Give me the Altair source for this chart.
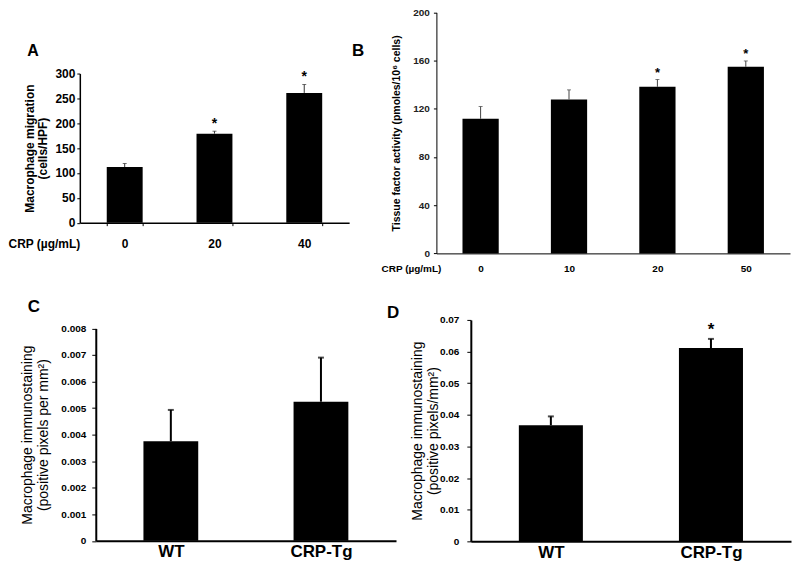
import altair as alt
import pandas as pd

FONT = "Liberation Sans"

# ---- data ----
a_cats = ["0", "20", "40"]
a_vals = [112, 179, 261]
a_errs = [7, 5, 17]
a_star = ["", "*", "*"]

b_cats = ["0", "10", "20", "50"]
b_vals = [111.7, 127.7, 138.2, 154.8]
b_errs = [10.2, 8.0, 6.1, 4.9]
b_star = ["", "", "*", "*"]

c_cats = ["WT", "CRP-Tg"]
c_vals = [0.00375, 0.00524]
c_errs = [0.00118, 0.00166]
c_star = ["", ""]

d_cats = ["WT", "CRP-Tg"]
d_vals = [0.0367, 0.0611]
d_errs = [0.0028, 0.0029]
d_star = ["", "*"]

W, H = 786, 555


def panel(cats, vals, errs, stars, xr, yr, ydom, yticks, pin, pout,
          ytitle, ytx, ylh, ytfs, ytfw, ylfs, ytick, ypad, ycol,
          xlfs, xpad, xticks, xtitle, xtx, xty, xtfs, dom_w,
          err_w, err_col, cap_size, star_fs, star_dy, ylabel_expr=None):
    df = pd.DataFrame({
        "cat": cats,
        "val": vals,
        "top": [v + e for v, e in zip(vals, errs)],
        "star": stars,
    })
    ymid = (yr[0] + yr[1]) / 2
    xaxis = alt.Axis(
        orient="bottom", offset=yr[0] - H, domainColor="black", domainWidth=dom_w,
        ticks=xticks, tickBand="extent", tickSize=3, tickColor="black", tickWidth=1,
        labelFont=FONT, labelFontSize=xlfs, labelFontWeight="bold", labelColor="black",
        labelAngle=0, labelBaseline="middle", labelPadding=xpad,
        title=xtitle if xtitle else None,
        titleX=xtx, titleY=xty, titleAlign="left", titleBaseline="middle",
        titleFont=FONT, titleFontSize=xtfs, titleFontWeight="bold", titleColor="black",
        grid=False,
    )
    yargs = dict(
        orient="left", offset=-xr[0], values=yticks, domainColor="black", domainWidth=dom_w,
        tickSize=ytick, tickColor="black", tickWidth=1,
        labelFont=FONT, labelFontSize=ylfs, labelFontWeight="bold", labelColor=ycol,
        labelPadding=ypad,
        title=ytitle, titleX=ytx, titleY=ymid, titleAngle=-90, titleAlign="center",
        titleBaseline="middle", titleLineHeight=ylh,
        titleFont=FONT, titleFontSize=ytfs, titleFontWeight=ytfw, titleColor="black",
        grid=False,
    )
    if ylabel_expr:
        yargs["labelExpr"] = ylabel_expr
    yaxis = alt.Axis(**yargs)
    xs = alt.Scale(range=xr, paddingInner=pin, paddingOuter=pout)
    ys = alt.Scale(domain=ydom, range=yr, nice=False, zero=True)
    x = alt.X("cat:N", sort=cats, scale=xs, axis=xaxis)

    def y(field):
        return alt.Y(f"{field}:Q", scale=ys, axis=yaxis)

    base = alt.Chart(df)
    bars = base.mark_bar(color="black").encode(x=x, y=y("val"))
    err = base.mark_rule(color=err_col, strokeWidth=err_w).encode(x=x, y=y("val"), y2="top:Q")
    cap = base.mark_tick(color=err_col, thickness=err_w, size=cap_size).encode(x=x, y=y("top"))
    star = base.mark_text(font=FONT, fontSize=star_fs, fontWeight="bold", color="black",
                          baseline="alphabetic", dy=star_dy).encode(x=x, y=y("top"), text="star:N")
    return alt.layer(bars, err, cap, star)


pA = panel(a_cats, a_vals, a_errs, a_star, [72, 342], [214.5, 65], [0, 300],
           [0, 50, 100, 150, 200, 250, 300], 0.6, 0.3,
           ["Macrophage migration", "(cells/HPF)"], -50, 13, 12, "bold", 12, 3, 2, "black",
           12, 17.5, True, "CRP (µg/mL)", 0, 20.5, 12, 1.5,
           1, "#333333", 4, 14, -3)

pB = panel(b_cats, b_vals, b_errs, b_star, [429.5, 784], [245.3, 3.7], [0, 200],
           [0, 40, 80, 120, 160, 200], 0.59, 0.295,
           "Tissue factor activity (pmoles/10⁶ cells)", -40.5, 12, 10.5, "bold", 10, 3, 4, "#222222",
           10, 15, False, "CRP (µg/mL)", 374, 15, 10, 1,
           1, "#444444", 4, 13, -3)

pC = panel(c_cats, c_vals, c_errs, c_star, [88, 389], [533.5, 320.5], [0, 0.008],
           [0, 0.001, 0.002, 0.003, 0.004, 0.005, 0.006, 0.007, 0.008], 0.635, 0.3175,
           ["Macrophage immunostaining", "(positive pixels per mm²)"], -68, 16, 14, "normal",
           10, 4, 6, "black",
           17, 11, False, "", 0, 0, 10, 2,
           2, "black", 6, 16, -4,
           ylabel_expr="datum.value == 0 ? '0' : format(datum.value, '.3f')")

pD = panel(d_cats, d_vals, d_errs, d_star, [464, 785], [534, 312], [0, 0.07],
           [0, 0.01, 0.02, 0.03, 0.04, 0.05, 0.06, 0.07], 0.6, 0.3,
           ["Macrophage immunostaining", "(positive pixels/mm²)"], -53, 16, 14, "normal",
           10, 4, 8, "black",
           17, 11, False, "", 0, 0, 10, 2,
           2, "black", 6, 17, -4,
           ylabel_expr="datum.value == 0 ? '0' : format(datum.value, '.2f')")

panel_letters = ["A", "B", "C", "D"]


def letter(t, px, py, fs):
    return alt.Chart(pd.DataFrame({"t": [t]})).mark_text(
        font=FONT, fontSize=fs, fontWeight="bold", color="black",
        align="center", baseline="alphabetic"
    ).encode(text="t:N", x=alt.value(px), y=alt.value(py))


letters = [
    letter(panel_letters[0], 25, 47, 16),
    letter(panel_letters[1], 351, 47, 17),
    letter(panel_letters[2], 26, 304, 17),
    letter(panel_letters[3], 386, 310, 17),
]

chart = alt.layer(pA, pB, pC, pD, *letters).resolve_scale(
    x="independent", y="independent"
).resolve_axis(
    x="independent", y="independent"
).properties(
    width=W, height=H, padding=0, autosize=alt.AutoSizeParams(type="none"),
    background="white",
).configure_view(stroke=None)

chart.save("out.html", embed_options={"renderer": "svg", "actions": False})
